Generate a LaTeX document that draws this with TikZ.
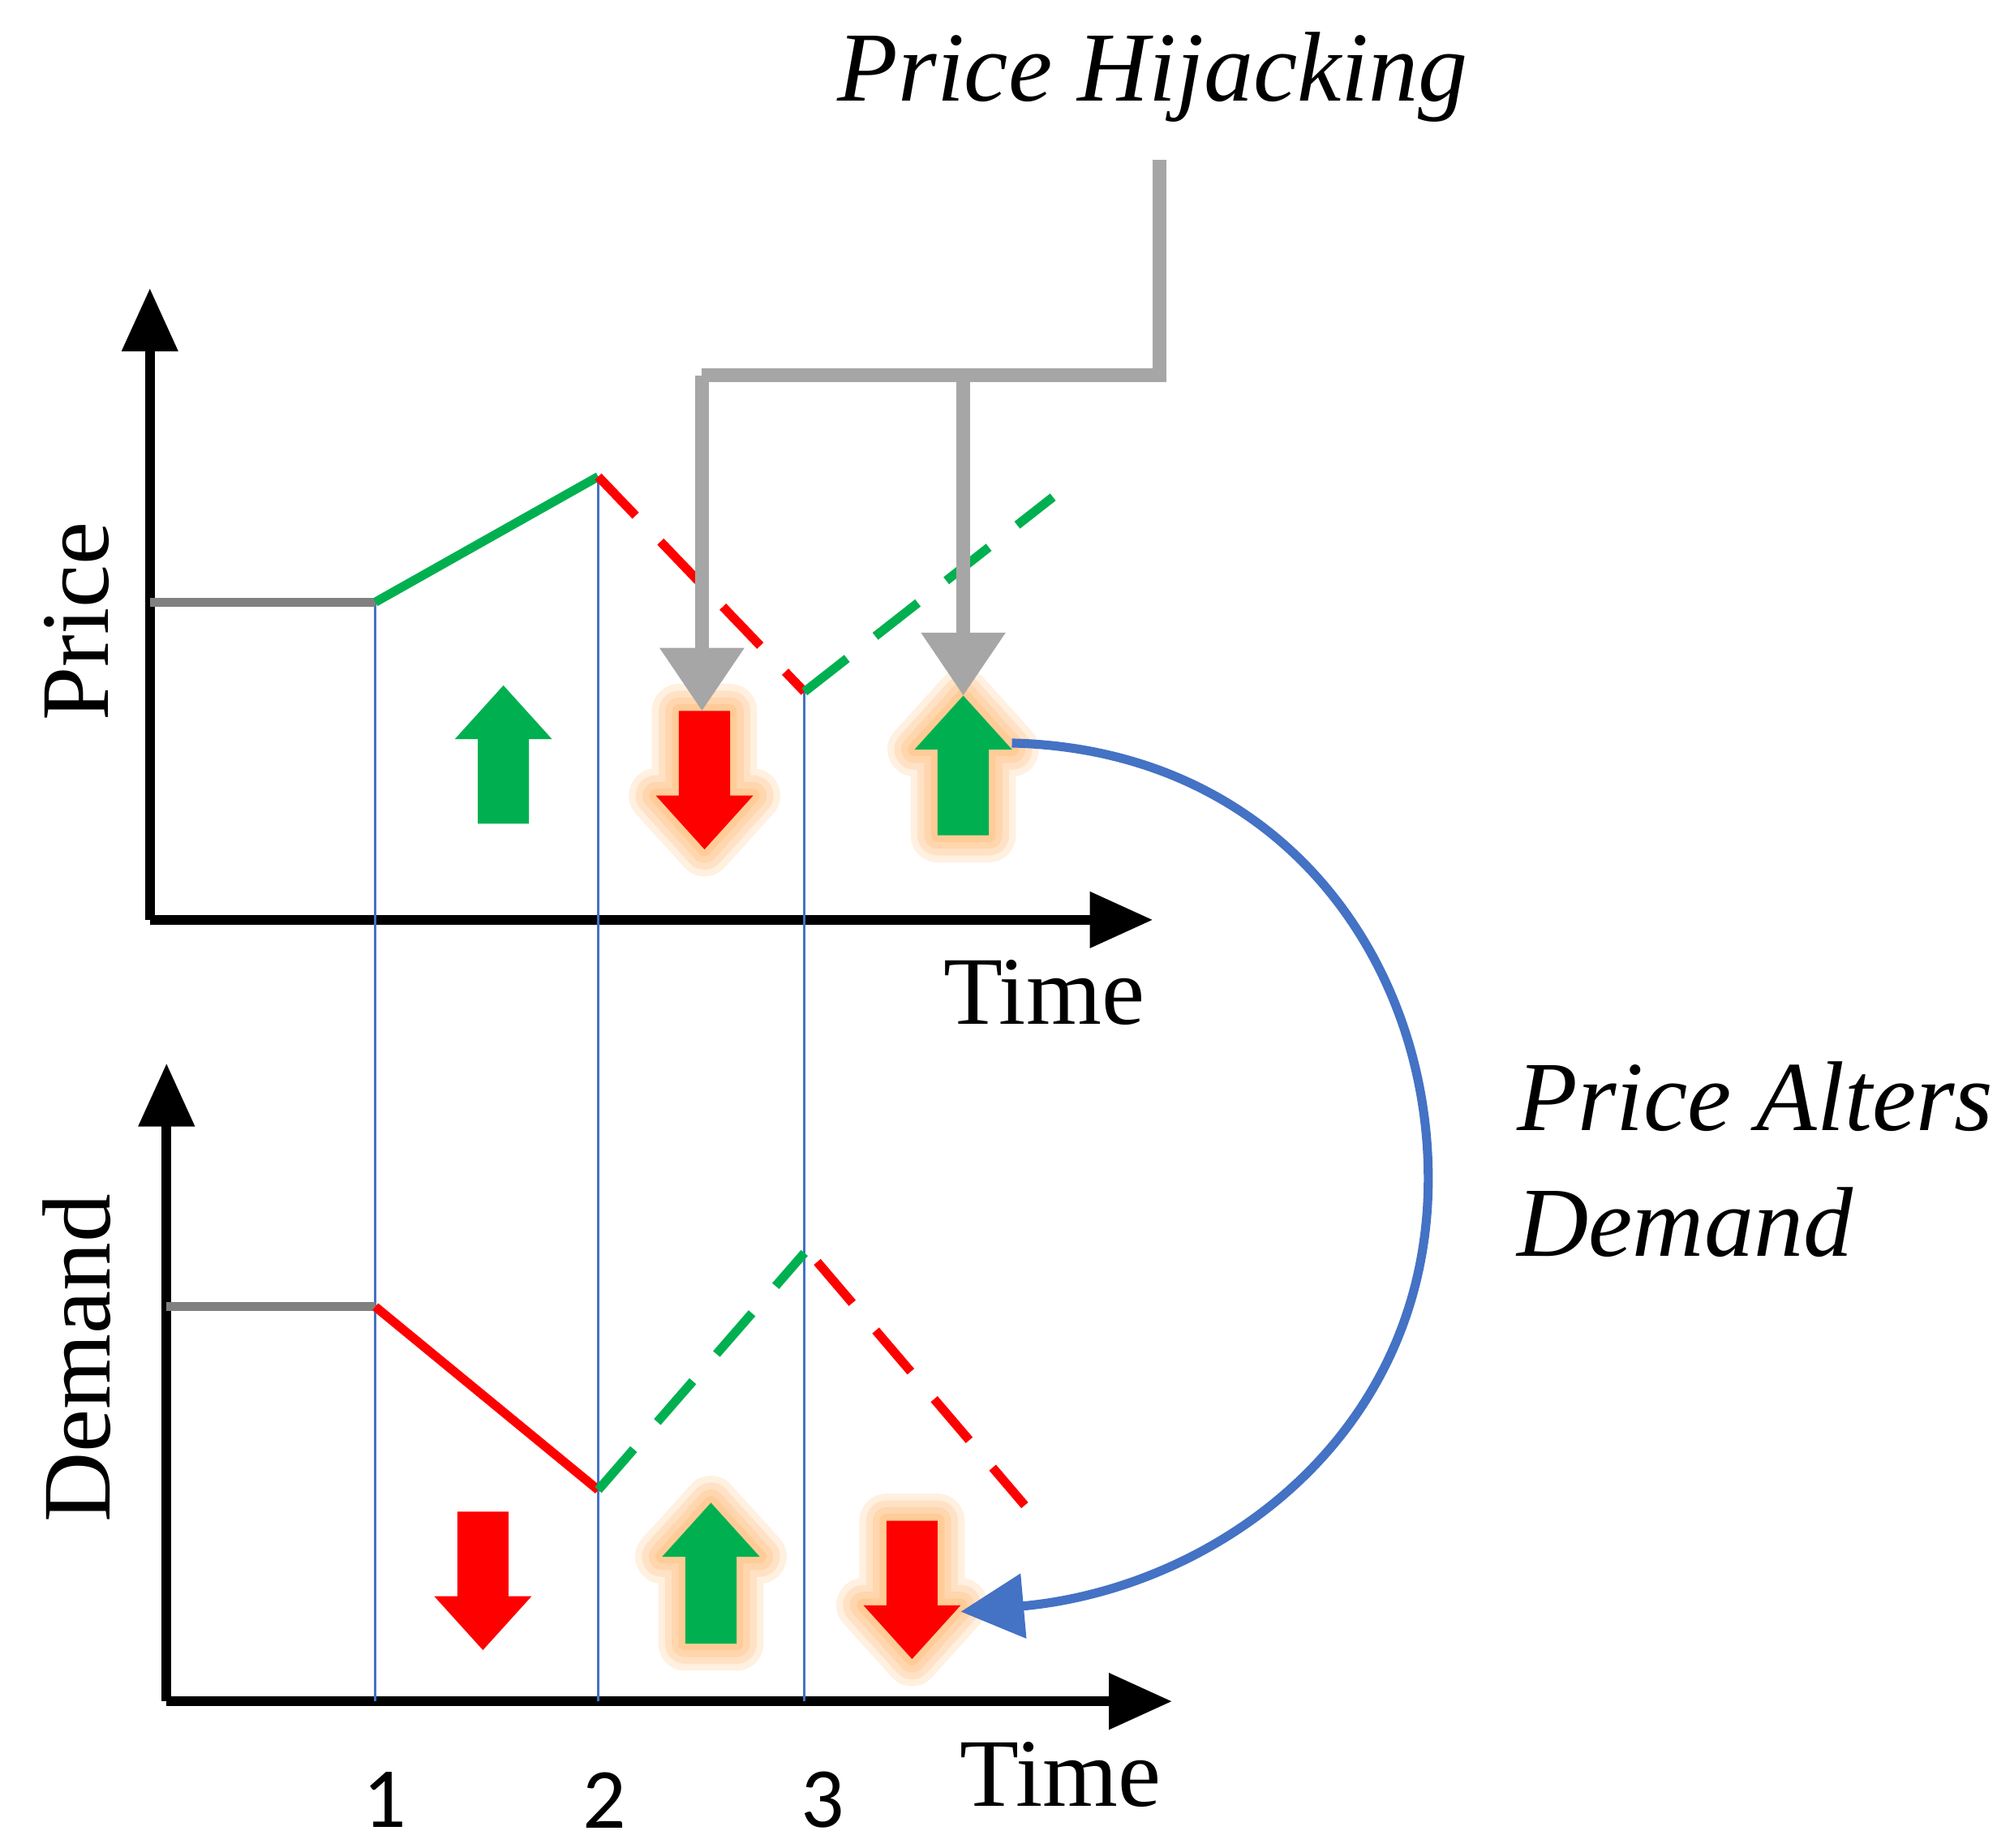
\documentclass[tikz,border=0pt]{standalone}
\usepackage{fontspec}
\setmainfont{Liberation Serif}
\newfontfamily\numfont{Carlito}
\usetikzlibrary{arrows.meta}
\newcommand\myup[3]{(#1,#2) -- (#1+38,#2+42) -- (#1+20,#2+42) -- (#1+20,#3) -- (#1-20,#3) -- (#1-20,#2+42) -- (#1-38,#2+42) -- cycle}
\newcommand\mydown[3]{(#1,#3) -- (#1+38,#3-42) -- (#1+20,#3-42) -- (#1+20,#2) -- (#1-20,#2) -- (#1-20,#3-42) -- (#1-38,#3-42) -- cycle}
\begin{document}
\begin{tikzpicture}[x=0.01cm,y=-0.01cm,
 axis/.style={line width=2.2pt,-{Triangle[length=14pt,width=12pt]}},
 vline/.style={draw={rgb,255:red,68;green,114;blue,196},line width=0.6pt},
 gr/.style={draw={rgb,255:red,0;green,176;blue,80},line width=2pt},
 rd/.style={draw=red,line width=2pt},
 dsh/.style={dash pattern=on 12pt off 8pt},
 lbl/.style={font=\fontsize{21.5}{25}\selectfont},
 ilbl/.style={font=\itshape\fontsize{22}{28}\selectfont},
 glow/.style={draw=orange,opacity=0.12,line join=round},
 garr/.style={draw={rgb,255:red,166;green,166;blue,166},line width=3pt},
 gtip/.style={garr,-{Triangle[length=14pt,width=18pt]}}]
\useasboundingbox (0,0) rectangle (1559,1442);
% axes
\coordinate (o1) at (117,718); \coordinate (t1) at (117,225); \coordinate (x1) at (900,718);
\draw[axis] (o1) -- (t1); \draw[axis] (o1) -- (x1);
\coordinate (o2) at (130,1328); \coordinate (t2) at (130,830); \coordinate (x2) at (915,1328);
\draw[axis] (o2) -- (t2); \draw[axis] (o2) -- (x2);
\node[lbl,rotate=90] (pl) at (60,485) {Price};
\node[lbl,rotate=90] (dl) at (60,1060) {Demand};
\node[lbl] (tm1) at (815,775) {Time};
\node[lbl] (tm2) at (828,1385) {Time};
% vertical lines
\draw[vline] (293,470) -- (293,1328);
\draw[vline] (467,372) -- (467,1328);
\draw[vline] (628,540) -- (628,1328);
\node[font=\numfont\fontsize{19}{22}\selectfont] (n1) at (300,1405) {1};
\node[font=\numfont\fontsize{19}{22}\selectfont] (n2) at (472,1405) {2};
\node[font=\numfont\fontsize{19}{22}\selectfont] (n3) at (642,1405) {3};
% price curve
\draw[draw=gray,line width=2pt] (117,470) -- (293,470);
\draw[gr] (293,470) -- (467,372);
\draw[rd,dsh] (467,372) -- (628,540);
\draw[gr,dsh] (628,540) -- (822,388);
% demand curve
\draw[draw=gray,line width=2pt] (130,1020) -- (293,1020);
\draw[rd] (293,1020) -- (467,1163);
\draw[gr,dsh] (467,1163) -- (628,978);
\draw[rd,dsh] (638,985) -- (800,1175);
% glows
\foreach \w in {12,9,6,3}{
 \draw[glow,line width=\w pt] \myup{752}{543}{652};
 \draw[glow,line width=\w pt] \mydown{550}{555}{663};
 \draw[glow,line width=\w pt] \myup{555}{1173}{1283};
 \draw[glow,line width=\w pt] \mydown{712}{1187}{1295};
}
\fill[fill={rgb,255:red,0;green,176;blue,80}] \myup{393}{535}{643};
\fill[fill={rgb,255:red,0;green,176;blue,80}] \myup{752}{543}{652};
\fill[fill={rgb,255:red,0;green,176;blue,80}] \myup{555}{1173}{1283};
\fill[red] \mydown{550}{555}{663};
\fill[red] \mydown{377}{1180}{1288};
\fill[red] \mydown{712}{1187}{1295};
% hijacking connector
\coordinate (h0) at (905,125); \coordinate (h1) at (905,293);
\coordinate (h2) at (548,293); \coordinate (h3) at (548,555);
\coordinate (b1) at (752,293); \coordinate (b2) at (752,543);
\draw[garr] (h0) -- (h1) -- (h2);
\draw[gtip] (h2) -- (h3);
\draw[gtip] (b1) -- (b2);
\node[ilbl] (ph) at (900,60) {Price Hijacking};
\node[ilbl,anchor=west,align=left] (pa) at (1172,905) {Price Alters\\Demand};
% blue curve
\coordinate (c0) at (790,580); \coordinate (c1) at (1115,920); \coordinate (c2) at (750,1258);
\draw[draw={rgb,255:red,68;green,114;blue,196},line width=2pt,-{Triangle[length=14pt,width=14pt]}]
 (c0) .. controls (1000,585) and (1115,750) .. (c1) .. controls (1115,1120) and (950,1240) .. (c2);
\end{tikzpicture}
\end{document}
